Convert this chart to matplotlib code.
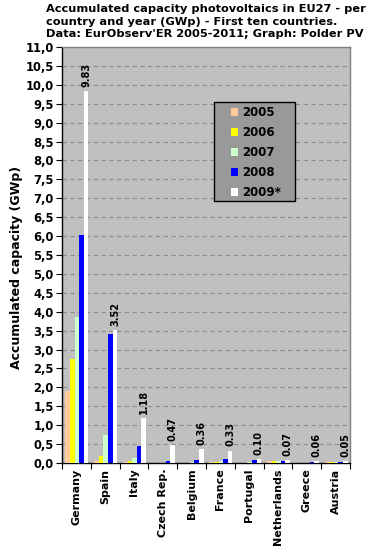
import matplotlib
matplotlib.use("Agg")
import matplotlib.pyplot as plt
import numpy as np
from matplotlib.patches import Patch, Rectangle

countries = ["Germany", "Spain", "Italy", "Czech Rep.", "Belgium", "France",
             "Portugal", "Netherlands", "Greece", "Austria"]
years = ["2005", "2006", "2007", "2008", "2009*"]
v2005 = [1.91, 0.05, 0.03, 0.00, 0.00, 0.03, 0.00, 0.05, 0.00, 0.02]
v2006 = [2.74, 0.18, 0.05, 0.00, 0.00, 0.03, 0.00, 0.05, 0.01, 0.025]
v2007 = [3.85, 0.74, 0.12, 0.01, 0.02, 0.05, 0.02, 0.05, 0.01, 0.03]
v2008 = [6.02, 3.41, 0.46, 0.06, 0.08, 0.10, 0.07, 0.06, 0.02, 0.03]
v2009 = [9.83, 3.52, 1.18, 0.47, 0.36, 0.33, 0.10, 0.07, 0.06, 0.05]
labels2009 = ["9.83", "3.52", "1.18", "0.47", "0.36", "0.33", "0.10", "0.07", "0.06", "0.05"]
colors = ["#FFCC99", "#FFFF00", "#CCFFCC", "#0000FF", "#FFFFFF"]
yticks = np.arange(0, 11.01, 0.5)
yticklabels = [f"{t:.1f}".replace(".", ",") for t in yticks]

W, H = 371, 558
fig = plt.figure(figsize=(W / 100, H / 100), dpi=100)
fig.patch.set_facecolor("white")
ax = fig.add_axes([62 / W, 1 - 463 / H, (350 - 62) / W, (463 - 47) / H])
ax.set_facecolor("#C0C0C0")

series = [v2005, v2006, v2007, v2008, v2009]
x = np.arange(len(countries))
bw = 0.16
for i, (vals, c) in enumerate(zip(series, colors)):
    ax.bar(x - 0.4 + bw * (i + 0.5) + 0.02, vals, width=bw, color=c, edgecolor="none",
           zorder=3, label=years[i])

for xi, v, lab in zip(x, v2009, labels2009):
    ax.annotate(lab, (xi - 0.4 + bw * 4.5 + 0.02, v), xytext=(0, 3),
                textcoords="offset points", rotation=90, ha="center", va="bottom",
                fontsize=7, fontweight="bold", color="black", zorder=4)

ax.set_xlim(-0.5, len(countries) - 0.5)
ax.set_ylim(0, 11)
ax.set_yticks(yticks)
ax.set_yticklabels(yticklabels, fontsize=8.3, fontweight="bold")
ax.yaxis.grid(True, linestyle=(0, (4, 3)), color="#8C8C8C", linewidth=0.8, zorder=1)
ax.set_axisbelow(True)

ax.set_xticks(np.arange(-0.5, len(countries), 1.0), minor=False)
ax.set_xticklabels([])
ax.set_xticks(x, minor=True)
ax.set_xticklabels(countries, minor=True, rotation=90, fontsize=8, fontweight="bold")
ax.tick_params(axis="x", which="minor", length=0, pad=4)
ax.tick_params(axis="x", which="major", length=4, direction="out", color="black")
ax.tick_params(axis="y", length=4, direction="out", color="black", pad=2)

for s in ["left", "bottom"]:
    ax.spines[s].set_color("black")
    ax.spines[s].set_linewidth(1.0)
for s in ["top", "right"]:
    ax.spines[s].set_color("#808080")
    ax.spines[s].set_linewidth(1.0)

fig.text(17 / W, 1 - 267 / H, "Accumulated capacity (GWp)", rotation=90,
         ha="center", va="center", fontsize=9, fontweight="bold")

fig.text(46 / W, 1 - 4 / H,
         "Accumulated capacity photovoltaics in EU27 - per\n"
         "country and year (GWp) - First ten countries.\n"
         "Data: EurObserv'ER 2005-2011; Graph: Polder PV",
         ha="left", va="top", fontsize=8.2, fontweight="bold", linespacing=1.32,
         multialignment="left")

# legend frame
fig.patches.append(Rectangle((214 / W, 1 - 201 / H), 81 / W, 99 / H,
                             transform=fig.transFigure, facecolor="#999999",
                             edgecolor="black", linewidth=1.0, zorder=5))
handles = [Patch(facecolor=c, edgecolor="none") for c in colors]
leg = fig.legend(handles, years, loc="upper left",
                 bbox_to_anchor=(231 / W, 1 - 106 / H), bbox_transform=fig.transFigure,
                 prop={"size": 8.5, "weight": "bold"}, frameon=False,
                 handlelength=0.6, handleheight=0.6, handletextpad=0.35,
                 labelspacing=0.6, borderpad=0.0, borderaxespad=0)
leg.set_zorder(6)

fig.savefig("out.png", dpi=100)
